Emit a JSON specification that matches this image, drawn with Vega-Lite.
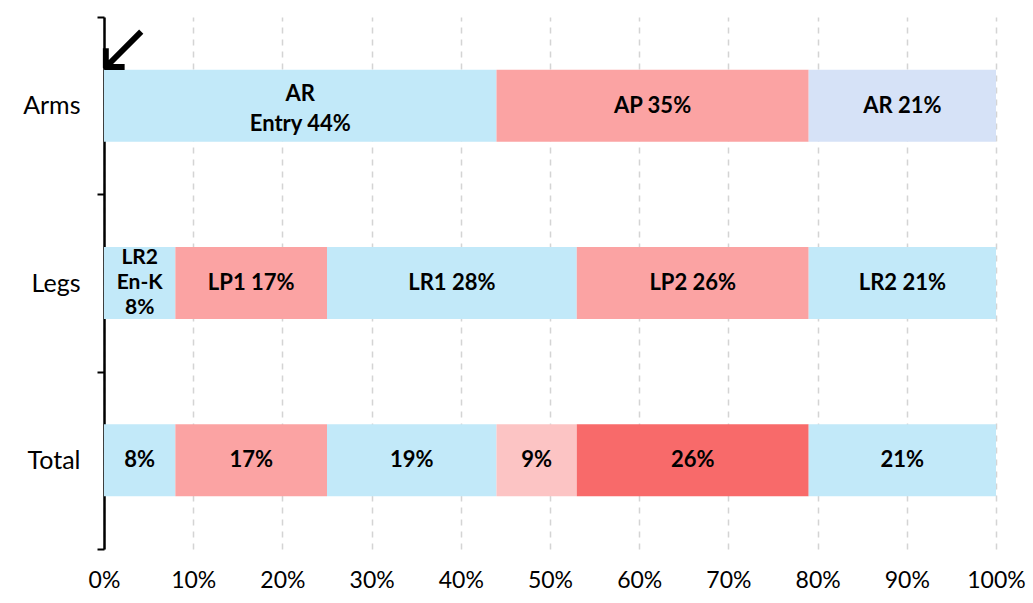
{
  "$schema": "https://vega.github.io/schema/vega-lite/v6.json",
  "width": 892,
  "height": 532,
  "autosize": {"type": "none"},
  "padding": {"left": 104, "top": 17, "right": 37, "bottom": 54},
  "background": "white",
  "config": {"view": {"stroke": null}, "font": "Lato"},
  "data": {
    "values": [
      {"part": "Arms", "seq": 1, "pct": 44, "label": "AR\nEntry 44%", "kind": "cyan"},
      {"part": "Arms", "seq": 2, "pct": 35, "label": "AP 35%", "kind": "red"},
      {"part": "Arms", "seq": 3, "pct": 21, "label": "AR 21%", "kind": "blue"},
      {"part": "Legs", "seq": 1, "pct": 8, "label": "LR2\nEn-K\n8%", "kind": "cyan"},
      {"part": "Legs", "seq": 2, "pct": 17, "label": "LP1 17%", "kind": "red"},
      {"part": "Legs", "seq": 3, "pct": 28, "label": "LR1 28%", "kind": "cyan"},
      {"part": "Legs", "seq": 4, "pct": 26, "label": "LP2 26%", "kind": "red"},
      {"part": "Legs", "seq": 5, "pct": 21, "label": "LR2 21%", "kind": "cyan"},
      {"part": "Total", "seq": 1, "pct": 8, "label": "8%", "kind": "cyan"},
      {"part": "Total", "seq": 2, "pct": 17, "label": "17%", "kind": "red"},
      {"part": "Total", "seq": 3, "pct": 19, "label": "19%", "kind": "cyan"},
      {"part": "Total", "seq": 4, "pct": 9, "label": "9%", "kind": "lightred"},
      {"part": "Total", "seq": 5, "pct": 26, "label": "26%", "kind": "darkred"},
      {"part": "Total", "seq": 6, "pct": 21, "label": "21%", "kind": "cyan"}
    ]
  },
  "encoding": {
    "y": {
      "field": "part",
      "type": "nominal",
      "sort": ["Arms", "Legs", "Total"],
      "scale": {"paddingInner": 0, "paddingOuter": 0},
      "axis": {
        "title": null,
        "tickBand": "extent",
        "domainColor": "black",
        "domainWidth": 2.5,
        "tickColor": "black",
        "tickWidth": 2,
        "tickSize": 7,
        "labelFontSize": 25,
        "labelColor": "black",
        "labelPadding": 17,
        "labelFont": "Lato"
      }
    }
  },
  "layer": [
    {
      "mark": {"type": "bar", "height": {"band": 0.406}},
      "encoding": {
        "x": {
          "field": "pct",
          "type": "quantitative",
          "stack": "zero",
          "scale": {"domain": [0, 100]},
          "axis": {
            "title": null,
            "values": [0, 10, 20, 30, 40, 50, 60, 70, 80, 90, 100],
            "labelExpr": "datum.value + '%'",
            "labelFlush": false,
            "domain": false,
            "ticks": false,
            "grid": true,
            "gridColor": "#d4d4d4",
            "gridWidth": 1.5,
            "gridDash": [6, 6],
            "labelFontSize": 23,
            "labelColor": "black",
            "labelPadding": 20,
            "labelFont": "Lato"
          }
        },
        "order": {"field": "seq"},
        "color": {
          "field": "kind",
          "type": "nominal",
          "scale": {
            "domain": ["cyan", "blue", "red", "lightred", "darkred"],
            "range": ["#c2e9f9", "#d6e2f7", "#fba3a3", "#fcc4c4", "#f86a6a"]
          },
          "legend": null
        }
      }
    },
    {
      "mark": {"type": "text", "fontWeight": "bold", "fontSize": 22, "color": "black"},
      "encoding": {
        "x": {"field": "pct", "type": "quantitative", "stack": "zero", "bandPosition": 0.5},
        "order": {"field": "seq"},
        "text": {
          "condition": {"test": "datum.seq == 1 && datum.part != 'Total'", "value": ""},
          "field": "label"
        }
      }
    },
    {
      "mark": {"type": "text", "fontWeight": "bold", "fontSize": 22, "lineBreak": "\n", "lineHeight": 30, "dy": -12, "color": "black"},
      "encoding": {
        "x": {"field": "pct", "type": "quantitative", "stack": "zero", "bandPosition": 0.5},
        "order": {"field": "seq"},
        "text": {
          "condition": {"test": "datum.seq == 1 && datum.part == 'Arms'", "field": "label"},
          "value": ""
        }
      }
    },
    {
      "mark": {"type": "text", "fontWeight": "bold", "fontSize": 21, "lineBreak": "\n", "lineHeight": 25, "dy": -25, "color": "black"},
      "encoding": {
        "x": {"field": "pct", "type": "quantitative", "stack": "zero", "bandPosition": 0.5},
        "order": {"field": "seq"},
        "text": {
          "condition": {"test": "datum.seq == 1 && datum.part == 'Legs'", "field": "label"},
          "value": ""
        }
      }
    },
    {
      "data": {"values": [{"part": "Arms", "at": 2, "glyph": "↙"}]},
      "mark": {"type": "text", "font": "DejaVu Sans", "fontSize": 72, "dy": -56, "dx": 1, "color": "black"},
      "encoding": {
        "x": {"field": "at", "type": "quantitative"},
        "text": {"field": "glyph"}
      }
    }
  ]
}
